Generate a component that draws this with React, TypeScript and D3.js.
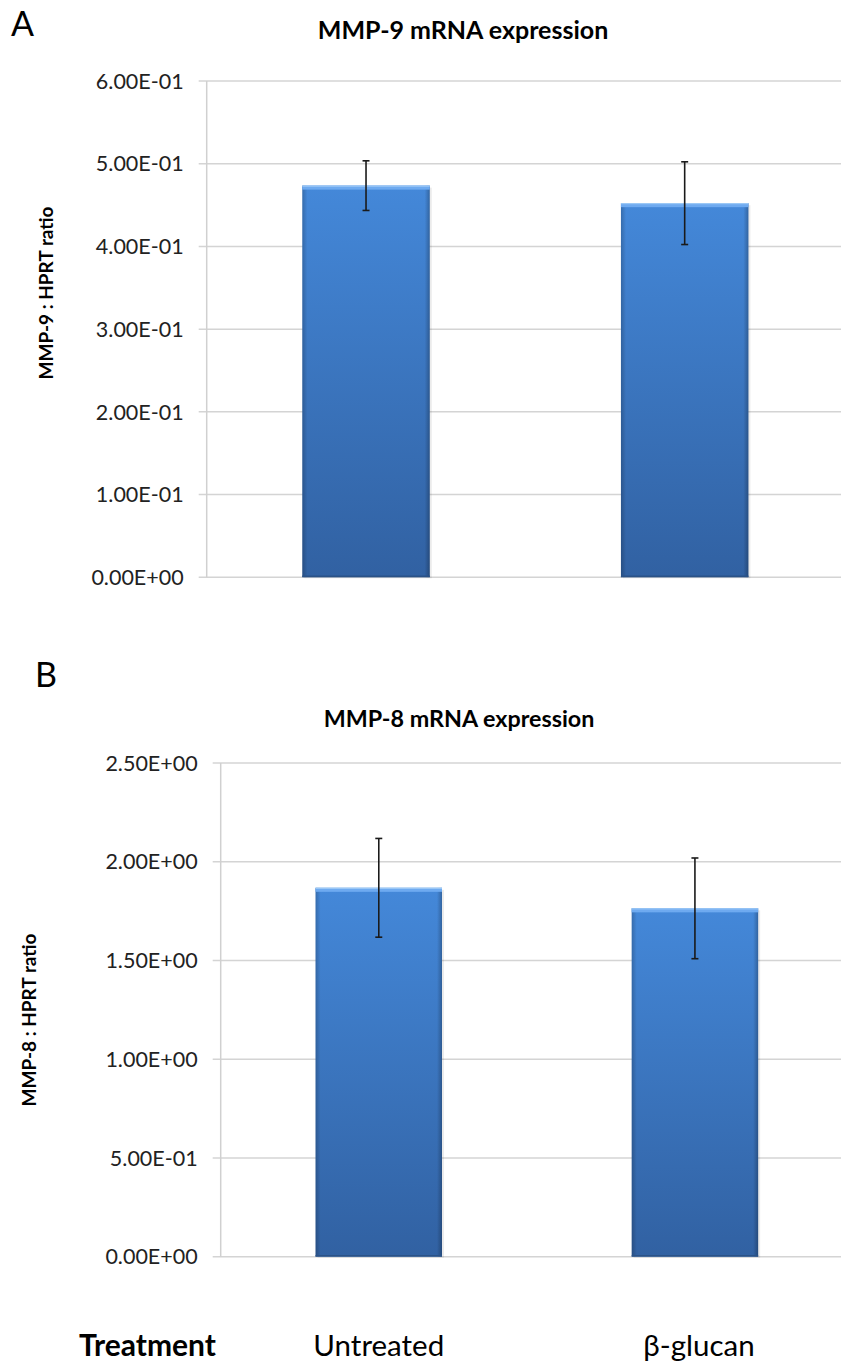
import React from "react";
import * as d3 from "d3";

const categories = ["Untreated", "β-glucan"];
const mmp9Values = [0.4735, 0.4523];
const mmp9Errors = [0.03, 0.05];
const mmp9Ticks = [0, 0.1, 0.2, 0.3, 0.4, 0.5, 0.6];
const mmp8Values = [1.868, 1.764];
const mmp8Errors = [0.25, 0.255];
const mmp8Ticks = [0, 0.5, 1.0, 1.5, 2.0, 2.5];

const W = 841;
const H = 1366;
const FONT = "Lato, 'Open Sans', sans-serif";

function sci(v: number): string {
  if (v === 0) return "0.00E+00";
  const e = Math.floor(Math.log10(Math.abs(v)) + 1e-9);
  const m = v / Math.pow(10, e);
  const sign = e < 0 ? "-" : "+";
  const ee = String(Math.abs(e)).padStart(2, "0");
  return `${m.toFixed(2)}E${sign}${ee}`;
}

type PanelProps = {
  id: string;
  letter: string;
  letterX: number;
  letterY: number;
  title: string;
  titleX: number;
  titleY: number;
  titleSize: number;
  yTitle: string;
  yTitleX: number;
  yTitleY: number;
  values: number[];
  errors: number[];
  ticks: number[];
  left: number;
  right: number;
  top: number;
  bottom: number;
};

function Panel(p: PanelProps) {
  const x = d3.scaleBand<string>().domain(categories).range([p.left, p.right]).paddingInner(0.6).paddingOuter(0.3);
  const y = d3.scaleLinear().domain([0, p.ticks[p.ticks.length - 1]]).range([p.bottom, p.top]);
  const bw = x.bandwidth();
  return (
    <g>
      <defs>
        <linearGradient id={`bar-${p.id}`} x1="0" y1="0" x2="0" y2="1">
          <stop offset="0" stopColor="#4488d9" />
          <stop offset="1" stopColor="#3161a2" />
        </linearGradient>
        <linearGradient id={`side-${p.id}`} x1="0" y1="0" x2="1" y2="0">
          <stop offset="0" stopColor="#000" stopOpacity="0.2" />
          <stop offset="0.04" stopColor="#000" stopOpacity="0" />
          <stop offset="0.96" stopColor="#000" stopOpacity="0" />
          <stop offset="1" stopColor="#000" stopOpacity="0.25" />
        </linearGradient>
      </defs>
      <text x={p.letterX} y={p.letterY} fontFamily={FONT} fontSize={34} fill="#000">{p.letter}</text>
      <text x={p.titleX} y={p.titleY} textAnchor="middle" fontFamily={FONT} fontWeight="bold" fontSize={p.titleSize} fill="#000">{p.title}</text>
      {p.ticks.map((t) => (
        <g key={t}>
          <line x1={p.left - 8} x2={p.right} y1={y(t)} y2={y(t)} stroke="#d4d4d4" strokeWidth={1.5} />
          <text x={p.left - 23} y={y(t)} dy="0.36em" textAnchor="end" fontFamily={FONT} fontSize={21.5} fill="#222">{sci(t)}</text>
        </g>
      ))}
      <line x1={p.left} x2={p.left} y1={p.top} y2={p.bottom} stroke="#d0d0d0" strokeWidth={1.5} />
      <text transform={`translate(${p.yTitleX},${p.yTitleY}) rotate(-90)`} textAnchor="middle" dy="0.35em" fontFamily={FONT} fontWeight="bold" fontSize={19} fill="#000">{p.yTitle}</text>
      {categories.map((c, i) => {
        const bx = x(c) as number;
        const by = y(p.values[i]);
        const bh = p.bottom - by;
        const cx = bx + bw / 2;
        const eTop = y(p.values[i] + p.errors[i]);
        const eBot = y(p.values[i] - p.errors[i]);
        return (
          <g key={c}>
            <rect x={bx + 2} y={by + 2} width={bw} height={bh - 1} fill="#000" opacity={0.08} />
            <rect x={bx} y={by} width={bw} height={bh} fill={`url(#bar-${p.id})`} />
            <rect x={bx} y={by} width={bw} height={bh} fill={`url(#side-${p.id})`} />
            <rect x={bx} y={by} width={bw} height={4} fill="#6eaaf0" />
            <line x1={bx} x2={bx + bw} y1={by + 0.5} y2={by + 0.5} stroke="#a6cff8" strokeWidth={1} />
            <line x1={bx} x2={bx + bw} y1={p.bottom - 1} y2={p.bottom - 1} stroke="#2a5287" strokeWidth={1.5} />
            <line x1={cx} x2={cx} y1={eTop} y2={eBot} stroke="#1a1a1a" strokeWidth={1.6} />
            <line x1={cx - 3.5} x2={cx + 3.5} y1={eTop} y2={eTop} stroke="#1a1a1a" strokeWidth={1.6} />
            <line x1={cx - 3.5} x2={cx + 3.5} y1={eBot} y2={eBot} stroke="#1a1a1a" strokeWidth={1.6} />
          </g>
        );
      })}
    </g>
  );
}

export default function App() {
  // x scale for bottom labels aligned with panel B
  const xb = d3.scaleBand<string>().domain(categories).range([220.7, 853]).paddingInner(0.6).paddingOuter(0.3);
  return (
    <svg width={W} height={H} style={{ position: "absolute", left: 0, top: 0, background: "#fff" }}>
      <rect width={W} height={H} fill="#fff" />
      <Panel id="a" letter="A" letterX={11} letterY={36} title="MMP-9 mRNA expression" titleX={463} titleY={39} titleSize={25} yTitle="MMP-9 : HPRT ratio" yTitleX={46} yTitleY={293}
        values={mmp9Values} errors={mmp9Errors} ticks={mmp9Ticks} left={206.7} right={844} top={81} bottom={577.3} />
      <Panel id="b" letter="B" letterX={35} letterY={687} title="MMP-8 mRNA expression" titleX={459} titleY={727} titleSize={23.3} yTitle="MMP-8 : HPRT ratio" yTitleX={29} yTitleY={1020}
        values={mmp8Values} errors={mmp8Errors} ticks={mmp8Ticks} left={220.7} right={853} top={763} bottom={1256.7} />
      <text x={79} y={1356} fontFamily={FONT} fontWeight="bold" fontSize={30} fill="#000">Treatment</text>
      {categories.map((c) => (
        <text key={c} x={(xb(c) as number) + xb.bandwidth() / 2 + (c === "β-glucan" ? 4 : 0)} y={1356} textAnchor="middle" fontFamily={FONT} fontSize={29.5} fill="#000">{c}</text>
      ))}
    </svg>
  );
}
